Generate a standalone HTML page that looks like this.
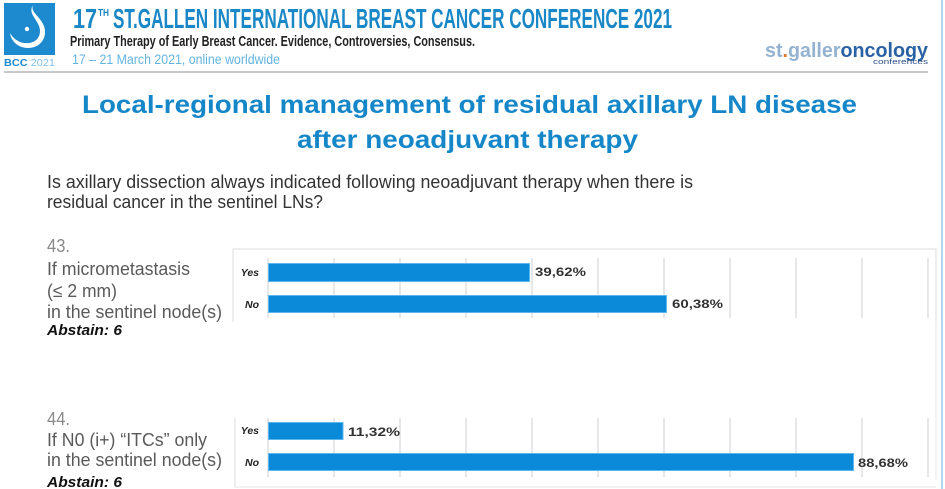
<!DOCTYPE html>
<html>
<head>
<meta charset="utf-8">
<style>
html,body{margin:0;padding:0;background:#fff;}
svg{display:block;}
text{font-family:"Liberation Sans",Arial,sans-serif;}
</style>
</head>
<body>
<svg width="945" height="489" viewBox="0 0 945 489" xmlns="http://www.w3.org/2000/svg">
<rect x="0" y="0" width="945" height="489" fill="#ffffff"/>

<!-- Logo -->
<rect x="4" y="3" width="51" height="52" fill="#1d8ad0"/>
<path d="M33 5 C30 12, 40 16, 44 26 C48 38, 40 48, 28 48 C18 48, 11 41, 10 33 C14 40, 21 44, 29 43 C38 42, 42 34, 39 26 C36 18, 28 13, 33 5 Z" fill="#ffffff"/>
<circle cx="27" cy="29" r="2.2" fill="#ffffff"/>
<text x="4" y="66" font-size="10.5" textLength="51" lengthAdjust="spacingAndGlyphs"><tspan fill="#1d8ad0" font-weight="bold">BCC</tspan><tspan fill="#7fbde6"> 2021</tspan></text>

<!-- Header text -->
<text x="73" y="28" font-size="28" font-weight="bold" fill="#1a87c6" textLength="24" lengthAdjust="spacingAndGlyphs">17</text>
<text x="98" y="16" font-size="10" font-weight="bold" fill="#1a87c6" textLength="11" lengthAdjust="spacingAndGlyphs">TH</text>
<text x="113" y="28" font-size="28" font-weight="bold" fill="#1a87c6" textLength="559" lengthAdjust="spacingAndGlyphs">ST.GALLEN INTERNATIONAL BREAST CANCER CONFERENCE 2021</text>
<text x="70" y="46" font-size="14.5" font-weight="bold" fill="#222" textLength="405" lengthAdjust="spacingAndGlyphs">Primary Therapy of Early Breast Cancer. Evidence, Controversies, Consensus.</text>
<text x="72" y="64" font-size="14" fill="#62b4e0" textLength="208" lengthAdjust="spacingAndGlyphs">17 – 21 March 2021, online worldwide</text>

<!-- st.galleroncology logo -->
<text x="765" y="57" font-size="20" font-weight="bold" textLength="163" lengthAdjust="spacingAndGlyphs"><tspan fill="#94b3d0">st</tspan><tspan fill="#e07a30">.</tspan><tspan fill="#94b3d0">galler</tspan><tspan fill="#2a62a6">oncology</tspan></text>
<text x="873" y="64" font-size="7" fill="#2a4f85" textLength="55" lengthAdjust="spacingAndGlyphs">conferences</text>

<!-- divider -->
<line x1="4" y1="72" x2="928" y2="72" stroke="#c8c8c8" stroke-width="2"/>
<!-- right blue edge -->
<line x1="942" y1="0" x2="942" y2="489" stroke="#9cc8e8" stroke-width="1.5"/>

<!-- Title -->
<text x="82" y="113" font-size="25" font-weight="bold" fill="#1587c8" textLength="775" lengthAdjust="spacingAndGlyphs">Local-regional management of residual axillary LN disease</text>
<text x="297" y="148" font-size="25" font-weight="bold" fill="#1587c8" textLength="341" lengthAdjust="spacingAndGlyphs">after neoadjuvant therapy</text>

<!-- Question -->
<text x="47" y="188" font-size="18" fill="#333" textLength="646" lengthAdjust="spacingAndGlyphs">Is axillary dissection always indicated following neoadjuvant therapy when there is</text>
<text x="47" y="208" font-size="18" fill="#333" textLength="276" lengthAdjust="spacingAndGlyphs">residual cancer in the sentinel LNs?</text>

<!-- Q43 labels -->
<text x="47" y="252" font-size="18" fill="#8a8a8a" textLength="23" lengthAdjust="spacingAndGlyphs">43.</text>
<text x="47" y="275" font-size="18" fill="#5a5a5a" textLength="143" lengthAdjust="spacingAndGlyphs">If micrometastasis</text>
<text x="47" y="297" font-size="18" fill="#5a5a5a" textLength="70" lengthAdjust="spacingAndGlyphs">(≤ 2 mm)</text>
<text x="47" y="318" font-size="18" fill="#5a5a5a" textLength="175" lengthAdjust="spacingAndGlyphs">in the sentinel node(s)</text>
<text x="47" y="335" font-size="15" font-weight="bold" font-style="italic" fill="#111" textLength="75" lengthAdjust="spacingAndGlyphs">Abstain: 6</text>

<!-- Q44 labels -->
<text x="47" y="425" font-size="18" fill="#8a8a8a" textLength="23" lengthAdjust="spacingAndGlyphs">44.</text>
<text x="47" y="446" font-size="18" fill="#5a5a5a" textLength="160" lengthAdjust="spacingAndGlyphs">If N0 (i+) “ITCs” only</text>
<text x="47" y="466" font-size="18" fill="#5a5a5a" textLength="175" lengthAdjust="spacingAndGlyphs">in the sentinel node(s)</text>
<text x="47" y="487" font-size="15" font-weight="bold" font-style="italic" fill="#111" textLength="75" lengthAdjust="spacingAndGlyphs">Abstain: 6</text>

<!-- Chart 1 frame -->
<polyline points="233,322 233,249 936,249 936,322" fill="none" stroke="#dcdcdc" stroke-width="1"/>
<!-- Chart 2 frame -->
<line x1="235" y1="418" x2="235" y2="487" stroke="#dcdcdc" stroke-width="1"/>
<line x1="936" y1="322" x2="936" y2="480" stroke="#e4e4e4" stroke-width="1"/>
<line x1="235" y1="487" x2="936" y2="487" stroke="#e4e4e4" stroke-width="1"/>

<!-- Grid lines chart 1 -->
<g stroke="#cfcfcf" stroke-width="1">
<line x1="268" y1="258" x2="268" y2="318"/>
<line x1="334" y1="258" x2="334" y2="318"/>
<line x1="400" y1="258" x2="400" y2="318"/>
<line x1="466" y1="258" x2="466" y2="318"/>
<line x1="532" y1="258" x2="532" y2="318"/>
<line x1="598" y1="258" x2="598" y2="318"/>
<line x1="664" y1="258" x2="664" y2="318"/>
<line x1="730" y1="258" x2="730" y2="318"/>
<line x1="796" y1="258" x2="796" y2="318"/>
<line x1="862" y1="258" x2="862" y2="318"/>
<line x1="928" y1="258" x2="928" y2="318"/>
</g>
<!-- Grid lines chart 2 -->
<g stroke="#cfcfcf" stroke-width="1">
<line x1="268" y1="418" x2="268" y2="477"/>
<line x1="334" y1="418" x2="334" y2="477"/>
<line x1="400" y1="418" x2="400" y2="477"/>
<line x1="466" y1="418" x2="466" y2="477"/>
<line x1="532" y1="418" x2="532" y2="477"/>
<line x1="598" y1="418" x2="598" y2="477"/>
<line x1="664" y1="418" x2="664" y2="477"/>
<line x1="730" y1="418" x2="730" y2="477"/>
<line x1="796" y1="418" x2="796" y2="477"/>
<line x1="862" y1="418" x2="862" y2="477"/>
<line x1="928" y1="418" x2="928" y2="477"/>
</g>

<!-- Bars -->
<g fill="#0a8ad9" stroke="#5db6ee" stroke-width="1">
<rect x="268.5" y="263.5" width="261" height="18"/>
<rect x="268.5" y="295.5" width="398" height="17"/>
<rect x="268.5" y="422.5" width="74.5" height="17"/>
<rect x="268.5" y="453.5" width="585" height="17"/>
</g>

<!-- Category labels -->
<g font-size="10.5" font-weight="bold" font-style="italic" fill="#222" text-anchor="end">
<text x="259" y="276">Yes</text>
<text x="259" y="308">No</text>
<text x="259" y="434">Yes</text>
<text x="259" y="466">No</text>
</g>

<!-- Value labels -->
<g font-size="11.5" font-weight="bold" fill="#333" style="font-family:'DejaVu Sans',sans-serif">
<text x="535" y="276" textLength="51" lengthAdjust="spacingAndGlyphs">39,62%</text>
<text x="672" y="308" textLength="51" lengthAdjust="spacingAndGlyphs">60,38%</text>
<text x="348" y="436" textLength="52" lengthAdjust="spacingAndGlyphs">11,32%</text>
<text x="858" y="467" textLength="50" lengthAdjust="spacingAndGlyphs">88,68%</text>
</g>
</svg>
</body>
</html>
